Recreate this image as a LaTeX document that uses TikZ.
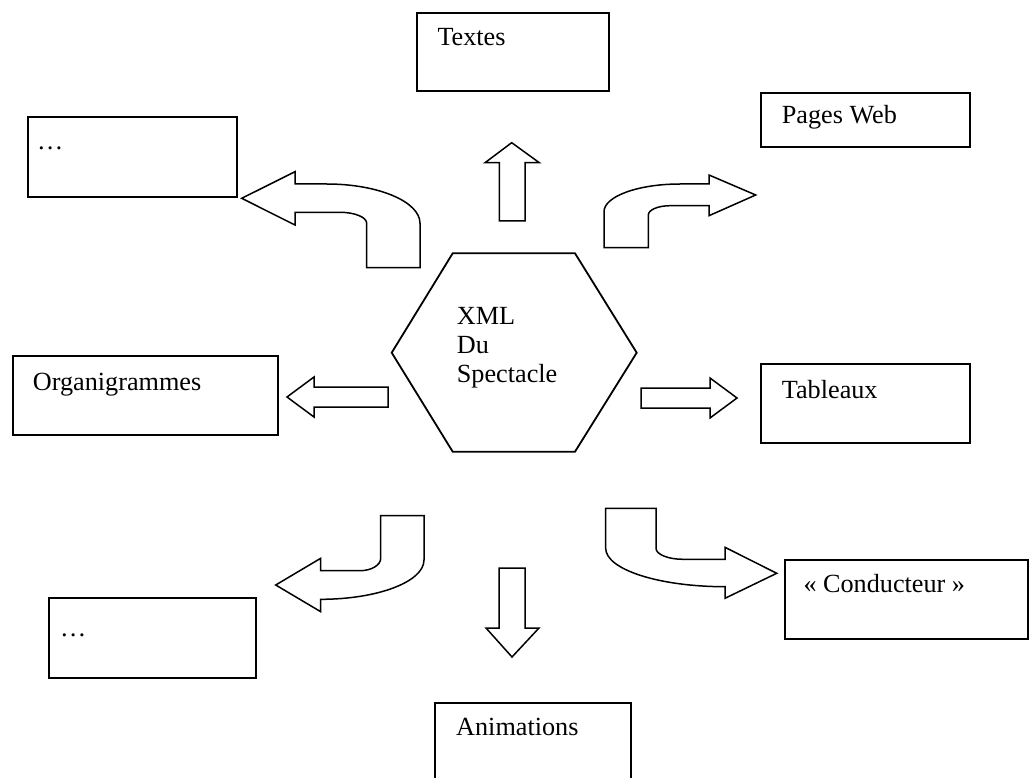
\documentclass[tikz,border=0pt]{standalone}
\usepackage{fontspec}
\setmainfont{Liberation Serif}
\begin{document}
\begin{tikzpicture}[x=1pt,y=-1pt,
  box/.style={draw=black,line width=2pt,anchor=north west,inner sep=0pt,fill=none},
  lbl/.style={anchor=base west,inner sep=0pt,font=\fontsize{26.2}{29}\selectfont},
  barrow/.style={draw=black,line width=1.5pt,line join=miter,fill=white},
  hexa/.style={draw=black,line width=1.8pt,fill=white}]
\clip (0,0) rectangle (1029,778);
\fill[white] (0,0) rectangle (1029,778);

% boxes
\node[box,minimum width=192pt,minimum height=78pt] (textesbox) at (416,12.3) {};
\node[box,minimum width=209pt,minimum height=54.3pt] (pagesbox) at (760,91.7) {};
\node[box,minimum width=209pt,minimum height=80pt] (dotsAbox) at (27,116) {};
\node[box,minimum width=265.3pt,minimum height=79.3pt] (orgbox) at (11.7,355) {};
\node[box,minimum width=209pt,minimum height=78.4pt] (tabbox) at (760,363.3) {};
\node[box,minimum width=207pt,minimum height=80pt] (dotsBbox) at (48,597) {};
\node[box,minimum width=243pt,minimum height=79pt] (condbox) at (784,559.3) {};
\node[box,minimum width=196pt,minimum height=100pt] (animbox) at (434,702) {};

% labels
\node[lbl] (textes) at (437.3,46) {Textes};
\node[lbl] (pages) at (781.7,123.3) {Pages Web};
\node[lbl] (dotsA) at (37,150) {…};
\node[lbl] (org) at (32.7,390) {Organigrammes};
\node[lbl] (tab) at (781.7,398.3) {Tableaux};
\node[lbl] (dotsB) at (60,636) {…};
\node[lbl] (cond) at (803.3,592.7) {« Conducteur »};
\node[lbl] (anim) at (456,735) {Animations};

% central hexagon
\draw[hexa] (452.7,253.3) -- (575,253.3) -- (636.7,352.7) -- (575,451.7) -- (452.7,451.7) -- (391.7,352.7) -- cycle;
\coordinate (hex) at (514.2,352.7);
\node[lbl] (xml) at (456.7,324) {XML};
\node[lbl] (du) at (456.7,353) {Du};
\node[lbl] (spec) at (456.7,382.7) {Spectacle};

% straight block arrows
\draw[barrow] (499.3,221) -- (499.3,162.7) -- (485,162.7) -- (511.7,142.7) -- (539.3,162.7) -- (525,162.7) -- (525,221) -- cycle;
\draw[barrow] (388,387) -- (314,387) -- (314,377) -- (287,397) -- (314,417) -- (314,407) -- (388,407) -- cycle;
\draw[barrow] (641,388) -- (710,388) -- (710,378) -- (737,398) -- (710,418) -- (710,408) -- (641,408) -- cycle;
\draw[barrow] (499,568) -- (525,568) -- (525,628) -- (539,628) -- (512,657) -- (486,628) -- (499,628) -- cycle;

% curved block arrows
\draw[barrow] (241.7,198.3) -- (295,171.7) -- (295,184) -- (326.7,184)
  .. controls (378.2,184) and (420,201.6) .. (420,223.3) -- (420,267.7) -- (366.7,267.7) -- (366.7,223.3)
  .. controls (366.7,217.2) and (354.7,212.3) .. (340,212.3) -- (295,212.3) -- (295,225) -- cycle;
\draw[barrow] (604,247.7) -- (604,211.7) .. controls (604,196.4) and (638,184) .. (680,184) -- (709,184) -- (709,175) -- (755.7,195) -- (709,215.7) -- (709,205.7) -- (670,205.7)
  .. controls (658,205.7) and (648.3,209.9) .. (648.3,215) -- (648.3,247.7) -- cycle;
\draw[barrow] (380.7,515.7) -- (424,515.7) -- (424,560) .. controls (424,581.7) and (377.7,599.3) .. (320.7,599.3) -- (320.7,611.7) -- (275.7,585) -- (320.7,558.3) -- (320.7,570.7) -- (360,570.7)
  .. controls (371.4,570.7) and (380.7,565.1) .. (380.7,558.3) -- cycle;
\draw[barrow] (605.7,508.3) -- (656,508.3) -- (656,548.3) .. controls (656,554.4) and (668.1,559.3) .. (683,559.3) -- (725,559.3) -- (725,547.3) -- (776.7,573.3) -- (725,598.3) -- (725,586.7)
  .. controls (659.1,586.7) and (605.7,569.5) .. (605.7,548.3) -- cycle;
\end{tikzpicture}
\end{document}
